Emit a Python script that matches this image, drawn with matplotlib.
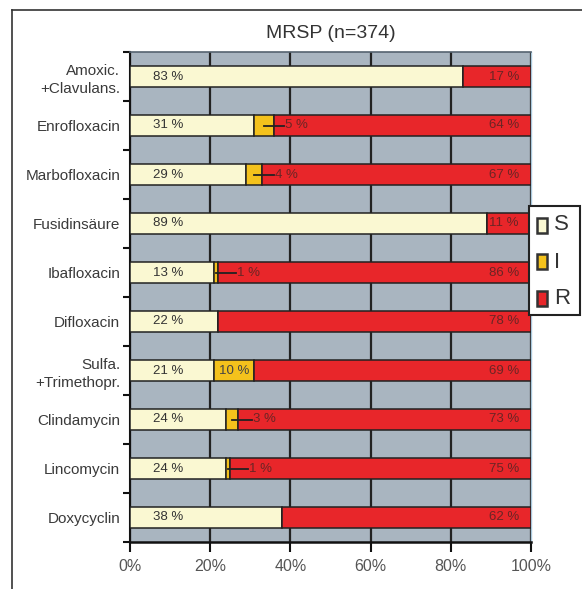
import matplotlib.pyplot as plt
from matplotlib.patches import Rectangle
from matplotlib.lines import Line2D

plt.rcParams['font.family'] = ['Liberation Sans', 'DejaVu Sans']

# Daten (Anteile in %)
drugs = ['Amoxic.\n+Clavulans.', 'Enrofloxacin', 'Marbofloxacin', 'Fusidinsäure',
         'Ibafloxacin', 'Difloxacin', 'Sulfa.\n+Trimethopr.', 'Clindamycin',
         'Lincomycin', 'Doxycyclin']
s_lbl = [83, 31, 29, 89, 13, 22, 21, 24, 24, 38]
i_lbl = [0, 5, 4, 0, 1, 0, 10, 3, 1, 0]
r_lbl = [17, 64, 67, 11, 86, 78, 69, 73, 75, 62]
# Balkenlaengen wie im Original gezeichnet (Ibafloxacin weicht von der Beschriftung ab)
s_bar = [83, 31, 29, 89, 21, 22, 21, 24, 24, 38]
i_bar = [0, 5, 4, 0, 1, 0, 10, 3, 1, 0]
r_bar = [17, 64, 67, 11, 78, 78, 69, 73, 75, 62]

c_s = '#faf8d2'
c_i = '#f4c21c'
c_r = '#e8262a'
bg = '#a9b5c0'

W, H = 582, 589
fig = plt.figure(figsize=(W / 100, H / 100), dpi=100)
ax = fig.add_axes([130 / W, 1 - 542 / H, 401 / W, 490 / H])
ax.set_facecolor(bg)

y = list(range(len(drugs)))
h = 0.42
ax.barh(y, s_bar, height=h, color=c_s, edgecolor='#222', linewidth=1.1, zorder=3)
left_i = s_bar
ax.barh(y, i_bar, left=left_i, height=h, color=c_i, edgecolor='#222', linewidth=1.1, zorder=3)
left_r = [a + b for a, b in zip(s_bar, i_bar)]
ax.barh(y, r_bar, left=left_r, height=h, color=c_r, edgecolor='#222', linewidth=1.1, zorder=3)

for k in y:
    ax.text(9.5, k, f'{s_lbl[k]} %', ha='center', va='center', fontsize=9.5,
            color='#333', zorder=5)
    ax.text(97, k, f'{r_lbl[k]} %', ha='right', va='center', fontsize=9.5,
            color='#6a2525', zorder=5)
    if i_lbl[k] >= 10:
        ax.text(left_i[k] + i_bar[k] / 2, k, f'{i_lbl[k]} %', ha='center', va='center',
                fontsize=9.5, color='#444', zorder=5)
    elif i_lbl[k] > 0:
        xc = left_i[k] + i_bar[k] / 2
        ax.plot([xc, xc + 5], [k, k], color='#222', lw=1.3, zorder=4)
        ax.text(xc + 5.2, k, f'{i_lbl[k]} %', ha='left', va='center', fontsize=9.5,
                color='#6a2525', zorder=5)

ax.set_xlim(0, 100)
ax.set_ylim(9.5, -0.5)
ax.set_xticks([0, 20, 40, 60, 80, 100])
ax.set_xticklabels(['0%', '20%', '40%', '60%', '80%', '100%'], fontsize=11.5, color='#555')
ax.set_yticks(y)
ax.set_yticklabels(drugs, fontsize=11, color='#3a3a3a', linespacing=1.4)
ax.set_yticks([k - 0.5 for k in range(len(drugs) + 1)], minor=True)
ax.tick_params(axis='y', which='major', length=0, pad=7)
ax.tick_params(axis='y', which='minor', length=5, width=1.5, color='#111')
ax.tick_params(axis='x', length=7, width=1.5, color='#111', pad=5)

ax.grid(axis='x', color='#222', linewidth=1.6, zorder=1)
ax.set_axisbelow(True)
ax.spines['left'].set_linewidth(1.5)
ax.spines['left'].set_color('#111')
ax.spines['bottom'].set_linewidth(1.8)
ax.spines['bottom'].set_color('#111')
ax.spines['top'].set_color('#556370')
ax.spines['top'].set_linewidth(1.2)
ax.spines['right'].set_color('#a9c8dc')
ax.spines['right'].set_linewidth(1.0)

fig.text(330.5 / W, 1 - 33 / H, 'MRSP (n=374)', ha='center', va='center',
         fontsize=14, color='#333')

# Legende
def px(x, yy):
    return x / W, 1 - yy / H

bx, by = px(529, 315)
fig.patches.append(Rectangle((bx, by), 51 / W, 109 / H, transform=fig.transFigure,
                             facecolor='white', edgecolor='#222', linewidth=1.5, zorder=10))
for lab, col, yy in [('S', c_s, 225), ('I', c_i, 262), ('R', c_r, 298)]:
    rx, ry = px(537, yy + 7.5)
    fig.patches.append(Rectangle((rx, ry), 10 / W, 15 / H, transform=fig.transFigure,
                                 facecolor=col, edgecolor='#333', linewidth=1.8, zorder=11))
    tx, ty = px(554, yy)
    fig.text(tx, ty, lab, ha='left', va='center', fontsize=16, color='#333', zorder=12)

# Rahmen oben und links
fig.add_artist(Line2D([12 / W, 1], [1 - 9.5 / H, 1 - 9.5 / H], color='#333', lw=1.2))
fig.add_artist(Line2D([12 / W, 12 / W], [0, 1 - 9.5 / H], color='#333', lw=1.2))

fig.savefig('out.png', dpi=100)
